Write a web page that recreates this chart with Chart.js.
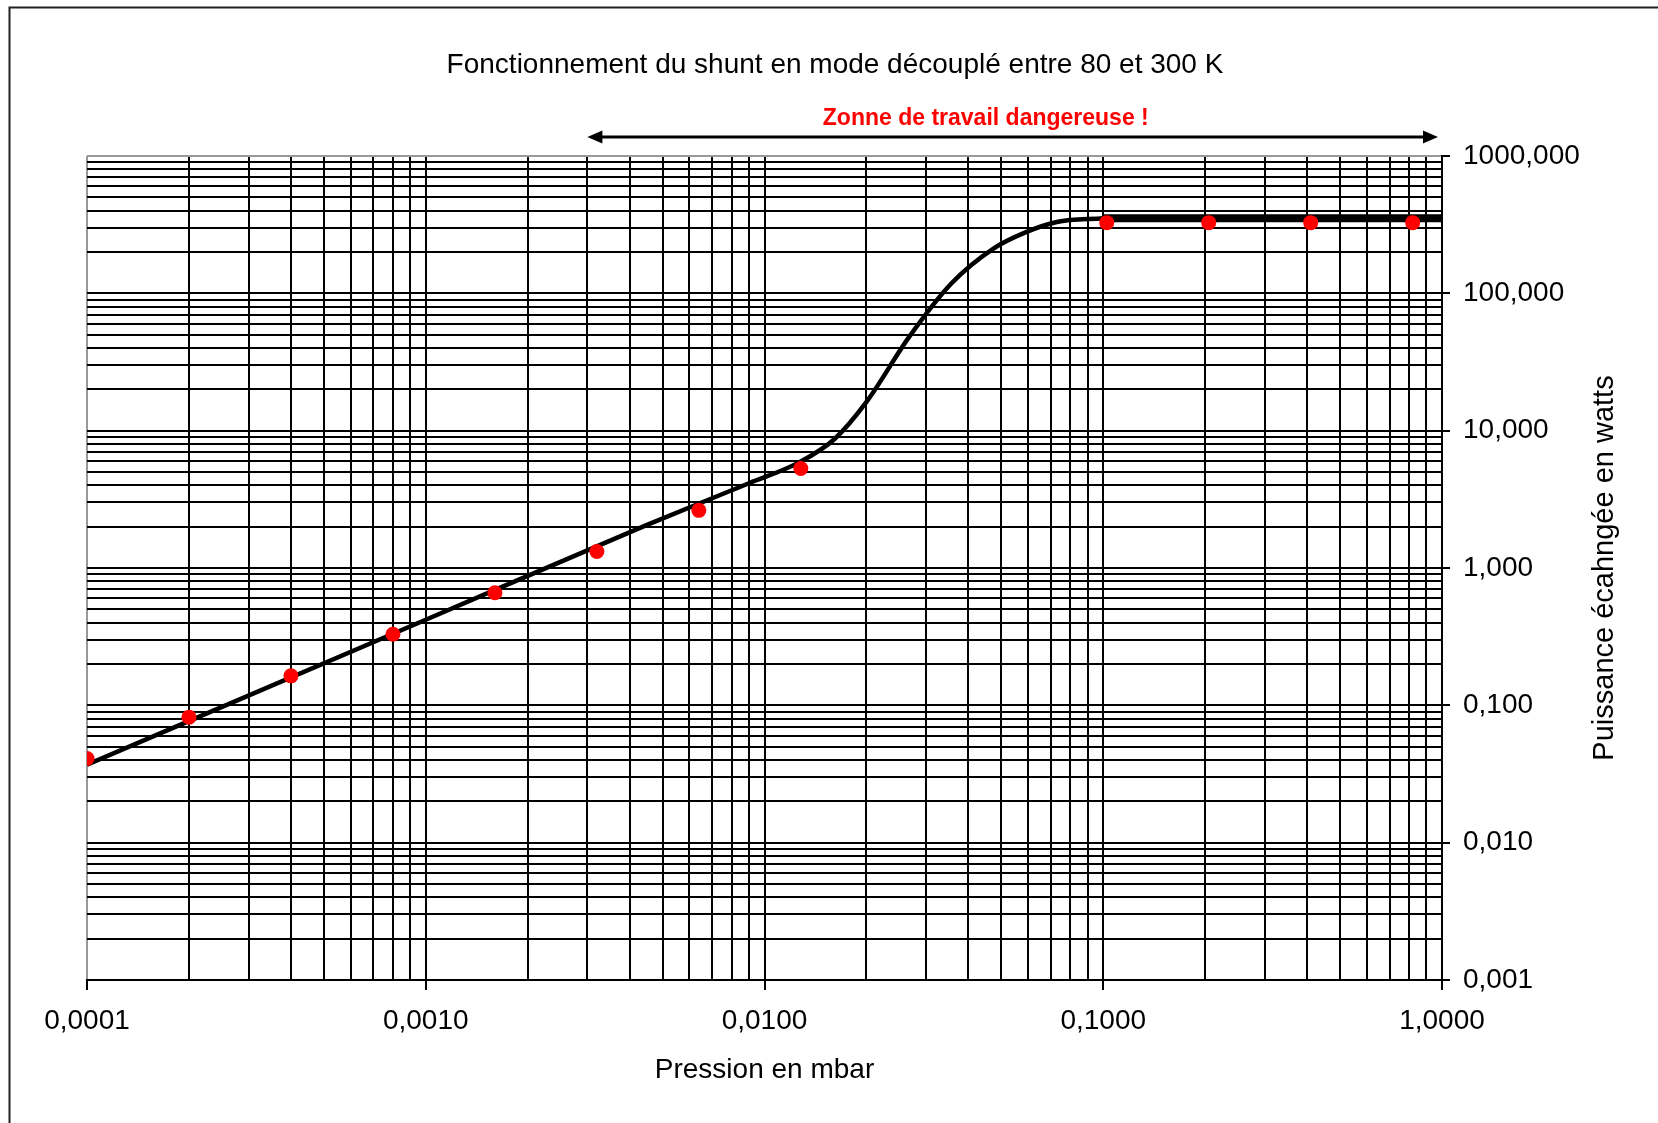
<!DOCTYPE html>
<html><head><meta charset="utf-8">
<script src="https://cdn.jsdelivr.net/npm/chart.js@4.4.1/dist/chart.umd.min.js"></script>
<style>html,body{margin:0;padding:0;background:#fff;} #wrap{width:1658px;height:1123px;position:relative;}</style>
</head><body><div id="wrap"><canvas id="c"></canvas></div>
<script>
const chartTitle = 'Fonctionnement du shunt en mode découplé entre 80 et 300 K';
const xAxisTitle = 'Pression en mbar';
const yAxisTitle = 'Puissance écahngée en watts';
const dangerLabel = 'Zonne de travail dangereuse !';
const dangerRange = [0.003, 1.0];
const dangerLabelAt = 0.045;

const measPressure = [0.0001, 0.0002, 0.0004, 0.0008, 0.0016, 0.0032, 0.0064, 0.0128, 0.1024, 0.2048, 0.4096, 0.8192];
const measPower    = [0.041, 0.082, 0.164, 0.329, 0.66, 1.32, 2.63, 5.3, 327, 327, 327, 327];

const curvePressure = [0.0001, 0.001, 0.0045, 0.009, 0.0127, 0.0161, 0.02, 0.0267, 0.0356, 0.0474, 0.0587, 0.0729, 0.1];
const curvePower    = [0.037, 0.42, 2.06, 4.14, 5.9, 8.7, 16.2, 48, 118, 212, 277, 331, 352];

const plateauPressure = [0.1, 1.0];
const plateauPower    = [352, 352];

const xTickValues = [0.0001, 0.001, 0.01, 0.1, 1];
const xTickLabels = ['0,0001', '0,0010', '0,0100', '0,1000', '1,0000'];
const yTickValues = [0.001, 0.01, 0.1, 1, 10, 100, 1000];
const yTickLabels = ['0,001', '0,010', '0,100', '1,000', '10,000', '100,000', '1000,000'];

const FONT = '"Liberation Sans", Arial, sans-serif';

function logGrid(min, max) {
  const out = [];
  const e0 = Math.round(Math.log10(min)), e1 = Math.round(Math.log10(max));
  for (let e = e0; e < e1; e++) for (let m = 1; m < 10; m++) out.push(Number((m * Math.pow(10, e)).toPrecision(6)));
  out.push(max);
  return out;
}
function findIdx(vals, v) {
  return vals.findIndex(t => Math.abs(Math.log10(t) - Math.log10(v)) < 1e-6);
}
function pts(xs, ys) { return xs.map((x, i) => ({x, y: ys[i]})); }

const framePlugin = {
  id: 'frame',
  beforeDraw(chart) {
    const ctx = chart.ctx;
    ctx.save();
    ctx.fillStyle = '#fff';
    ctx.fillRect(0, 0, chart.width, chart.height);
    ctx.strokeStyle = '#222';
    ctx.lineWidth = 2;
    ctx.strokeRect(9.5, 7.5, 1800, 1300);
    ctx.restore();
  }
};

const annotPlugin = {
  id: 'annot',
  afterDraw(chart) {
    const ctx = chart.ctx, xs = chart.scales.x, ca = chart.chartArea;
    ctx.save();
    const y = ca.top - 19;
    const x1 = xs.getPixelForValue(dangerRange[0]);
    const x2 = xs.getPixelForValue(dangerRange[1]) - 4;
    const hl = 15, hh = 6.5;
    ctx.strokeStyle = '#000'; ctx.fillStyle = '#000'; ctx.lineWidth = 3;
    ctx.beginPath(); ctx.moveTo(x1 + hl - 2, y); ctx.lineTo(x2 - hl + 2, y); ctx.stroke();
    ctx.beginPath(); ctx.moveTo(x1, y); ctx.lineTo(x1 + hl, y - hh); ctx.lineTo(x1 + hl, y + hh); ctx.closePath(); ctx.fill();
    ctx.beginPath(); ctx.moveTo(x2, y); ctx.lineTo(x2 - hl, y - hh); ctx.lineTo(x2 - hl, y + hh); ctx.closePath(); ctx.fill();
    ctx.fillStyle = '#ff0000';
    ctx.font = 'bold 23px ' + FONT;
    ctx.textAlign = 'center'; ctx.textBaseline = 'middle';
    ctx.fillText(dangerLabel, xs.getPixelForValue(dangerLabelAt), ca.top - 37);
    ctx.fillStyle = '#000';
    ctx.font = '29px ' + FONT;
    ctx.translate(ca.right + 163, (ca.top + ca.bottom) / 2);
    ctx.rotate(-Math.PI / 2);
    ctx.fillText(yAxisTitle, 0, 0);
    ctx.restore();
  }
};

const isMajor = v => Math.abs(Math.log10(v) - Math.round(Math.log10(v))) < 1e-6;

new Chart(document.getElementById('c'), {
  type: 'scatter',
  data: {
    datasets: [
      { label: 'mesures', data: pts(measPressure, measPower), pointRadius: 7.5, pointHoverRadius: 7.5,
        pointBackgroundColor: '#ff0000', pointBorderWidth: 0, backgroundColor: '#ff0000', showLine: false },
      { label: 'plateau', data: pts(plateauPressure, plateauPower), showLine: true, pointRadius: 0,
        borderColor: '#000', borderWidth: 8, borderCapStyle: 'butt' },
      { label: 'courbe', data: pts(curvePressure, curvePower), showLine: true, pointRadius: 0,
        borderColor: '#000', borderWidth: 4.5, cubicInterpolationMode: 'monotone' }
    ]
  },
  options: {
    responsive: true, maintainAspectRatio: false, animation: false, devicePixelRatio: 1,
    layout: { padding: { left: 87, right: 75, top: 0, bottom: 33 } },
    plugins: {
      legend: { display: false }, tooltip: { enabled: false },
      title: { display: true, text: chartTitle, color: '#000', font: { family: FONT, size: 28, weight: 'normal' },
        padding: { top: 48.2, bottom: 74.2 } }
    },
    scales: {
      x: {
        type: 'logarithmic', position: 'bottom', min: 0.0001, max: 1,
        afterBuildTicks: s => { s.ticks = logGrid(0.0001, 1).map(v => ({value: v})); },
        afterFit: s => { s.height = 110; },
        ticks: { autoSkip: false, maxRotation: 0, padding: 14, color: '#000', font: { family: FONT, size: 28 },
          callback: v => { const i = findIdx(xTickValues, v); return i >= 0 ? xTickLabels[i] : ''; } },
        grid: { color: c => (c.tick && Math.abs(c.tick.value - 0.0001) < 1e-12) ? '#999' : '#000', lineWidth: 2,
          tickLength: 10, tickColor: c => (c.tick && isMajor(c.tick.value)) ? '#000' : 'rgba(0,0,0,0)' },
        border: { color: '#000', width: 2 },
        title: { display: true, text: xAxisTitle, color: '#000', font: { family: FONT, size: 28 }, padding: { top: 0, bottom: 3 } }
      },
      y: {
        type: 'logarithmic', position: 'right', min: 0.001, max: 1000,
        afterBuildTicks: s => { s.ticks = logGrid(0.001, 1000).map(v => ({value: v})); },
        afterFit: s => { s.width = 141; },
        ticks: { autoSkip: false, padding: 13, color: '#000', font: { family: FONT, size: 28 },
          callback: v => { const i = findIdx(yTickValues, v); return i >= 0 ? yTickLabels[i] : ''; } },
        grid: { color: c => (c.tick && Math.abs(c.tick.value - 1000) < 1e-9) ? '#999' : '#000', lineWidth: 2,
          tickLength: 8, tickColor: c => (c.tick && isMajor(c.tick.value)) ? '#000' : 'rgba(0,0,0,0)' },
        border: { color: '#000', width: 2 }
      }
    }
  },
  plugins: [framePlugin, annotPlugin]
});
</script>
</body></html>
